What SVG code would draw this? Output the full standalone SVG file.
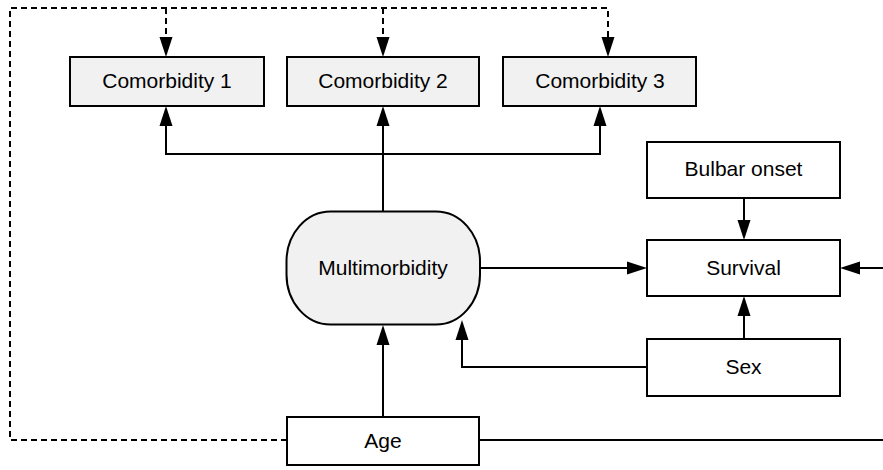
<svg xmlns="http://www.w3.org/2000/svg" width="883" height="470" viewBox="0 0 883 470">
<style>
.box{fill:#ffffff;stroke:#000;stroke-width:2}
.gray{fill:#f1f1f1;stroke:#000;stroke-width:2}
.lbl{font-family:"Liberation Sans",Arial,sans-serif;font-size:21px;fill:#000;text-anchor:middle}
.c{fill:none;stroke:#000;stroke-width:2}
.d{fill:none;stroke:#000;stroke-width:2;stroke-dasharray:6 4}
</style>
<defs>
<marker id="ah" markerUnits="userSpaceOnUse" markerWidth="20" markerHeight="14" refX="10" refY="7" orient="auto">
<path d="M0,0.5 L20,7 L0,13.5 z" fill="#000"/>
</marker>
</defs>
<g id="connectors">
<path class="d" d="M287,440 H10 V8 H608 V47" marker-end="url(#ah)"/>
<path class="d" d="M166,8 V47" marker-end="url(#ah)"/>
<path class="d" d="M383,8 V47" marker-end="url(#ah)"/>
<path class="c" d="M383,211 V116" marker-end="url(#ah)"/>
<path class="c" d="M383,154 H166 V116" marker-end="url(#ah)"/>
<path class="c" d="M383,154 H600 V116" marker-end="url(#ah)"/>
<path class="c" d="M480,268 H637" marker-end="url(#ah)"/>
<path class="c" d="M744,198 V230" marker-end="url(#ah)"/>
<path class="c" d="M744,339 V306" marker-end="url(#ah)"/>
<path class="c" d="M647,367 H462 V330" marker-end="url(#ah)"/>
<path class="c" d="M383,417 V335" marker-end="url(#ah)"/>
<path class="c" d="M479,440 H900 V268 H850" marker-end="url(#ah)"/>
</g>
<g id="comorbidity1"><rect class="gray" x="70" y="57" width="194" height="49"/><text class="lbl" x="167" y="88">Comorbidity 1</text></g>
<g id="comorbidity2"><rect class="gray" x="287" y="57" width="192" height="49"/><text class="lbl" x="383" y="88">Comorbidity 2</text></g>
<g id="comorbidity3"><rect class="gray" x="503" y="57" width="193" height="49"/><text class="lbl" x="600" y="88">Comorbidity 3</text></g>
<g id="multimorbidity"><rect class="gray" x="286.5" y="211.5" width="193.5" height="113" rx="44" ry="50"/><text class="lbl" x="383" y="275">Multimorbidity</text></g>
<g id="bulbar"><rect class="box" x="647" y="142" width="193" height="56"/><text class="lbl" x="743.5" y="176">Bulbar onset</text></g>
<g id="survival"><rect class="box" x="647" y="240" width="193" height="56"/><text class="lbl" x="743.5" y="275">Survival</text></g>
<g id="sex"><rect class="box" x="647" y="339" width="193" height="57"/><text class="lbl" x="743.5" y="374">Sex</text></g>
<g id="age"><rect class="box" x="287" y="417" width="192" height="48"/><text class="lbl" x="383" y="448">Age</text></g>
</svg>
